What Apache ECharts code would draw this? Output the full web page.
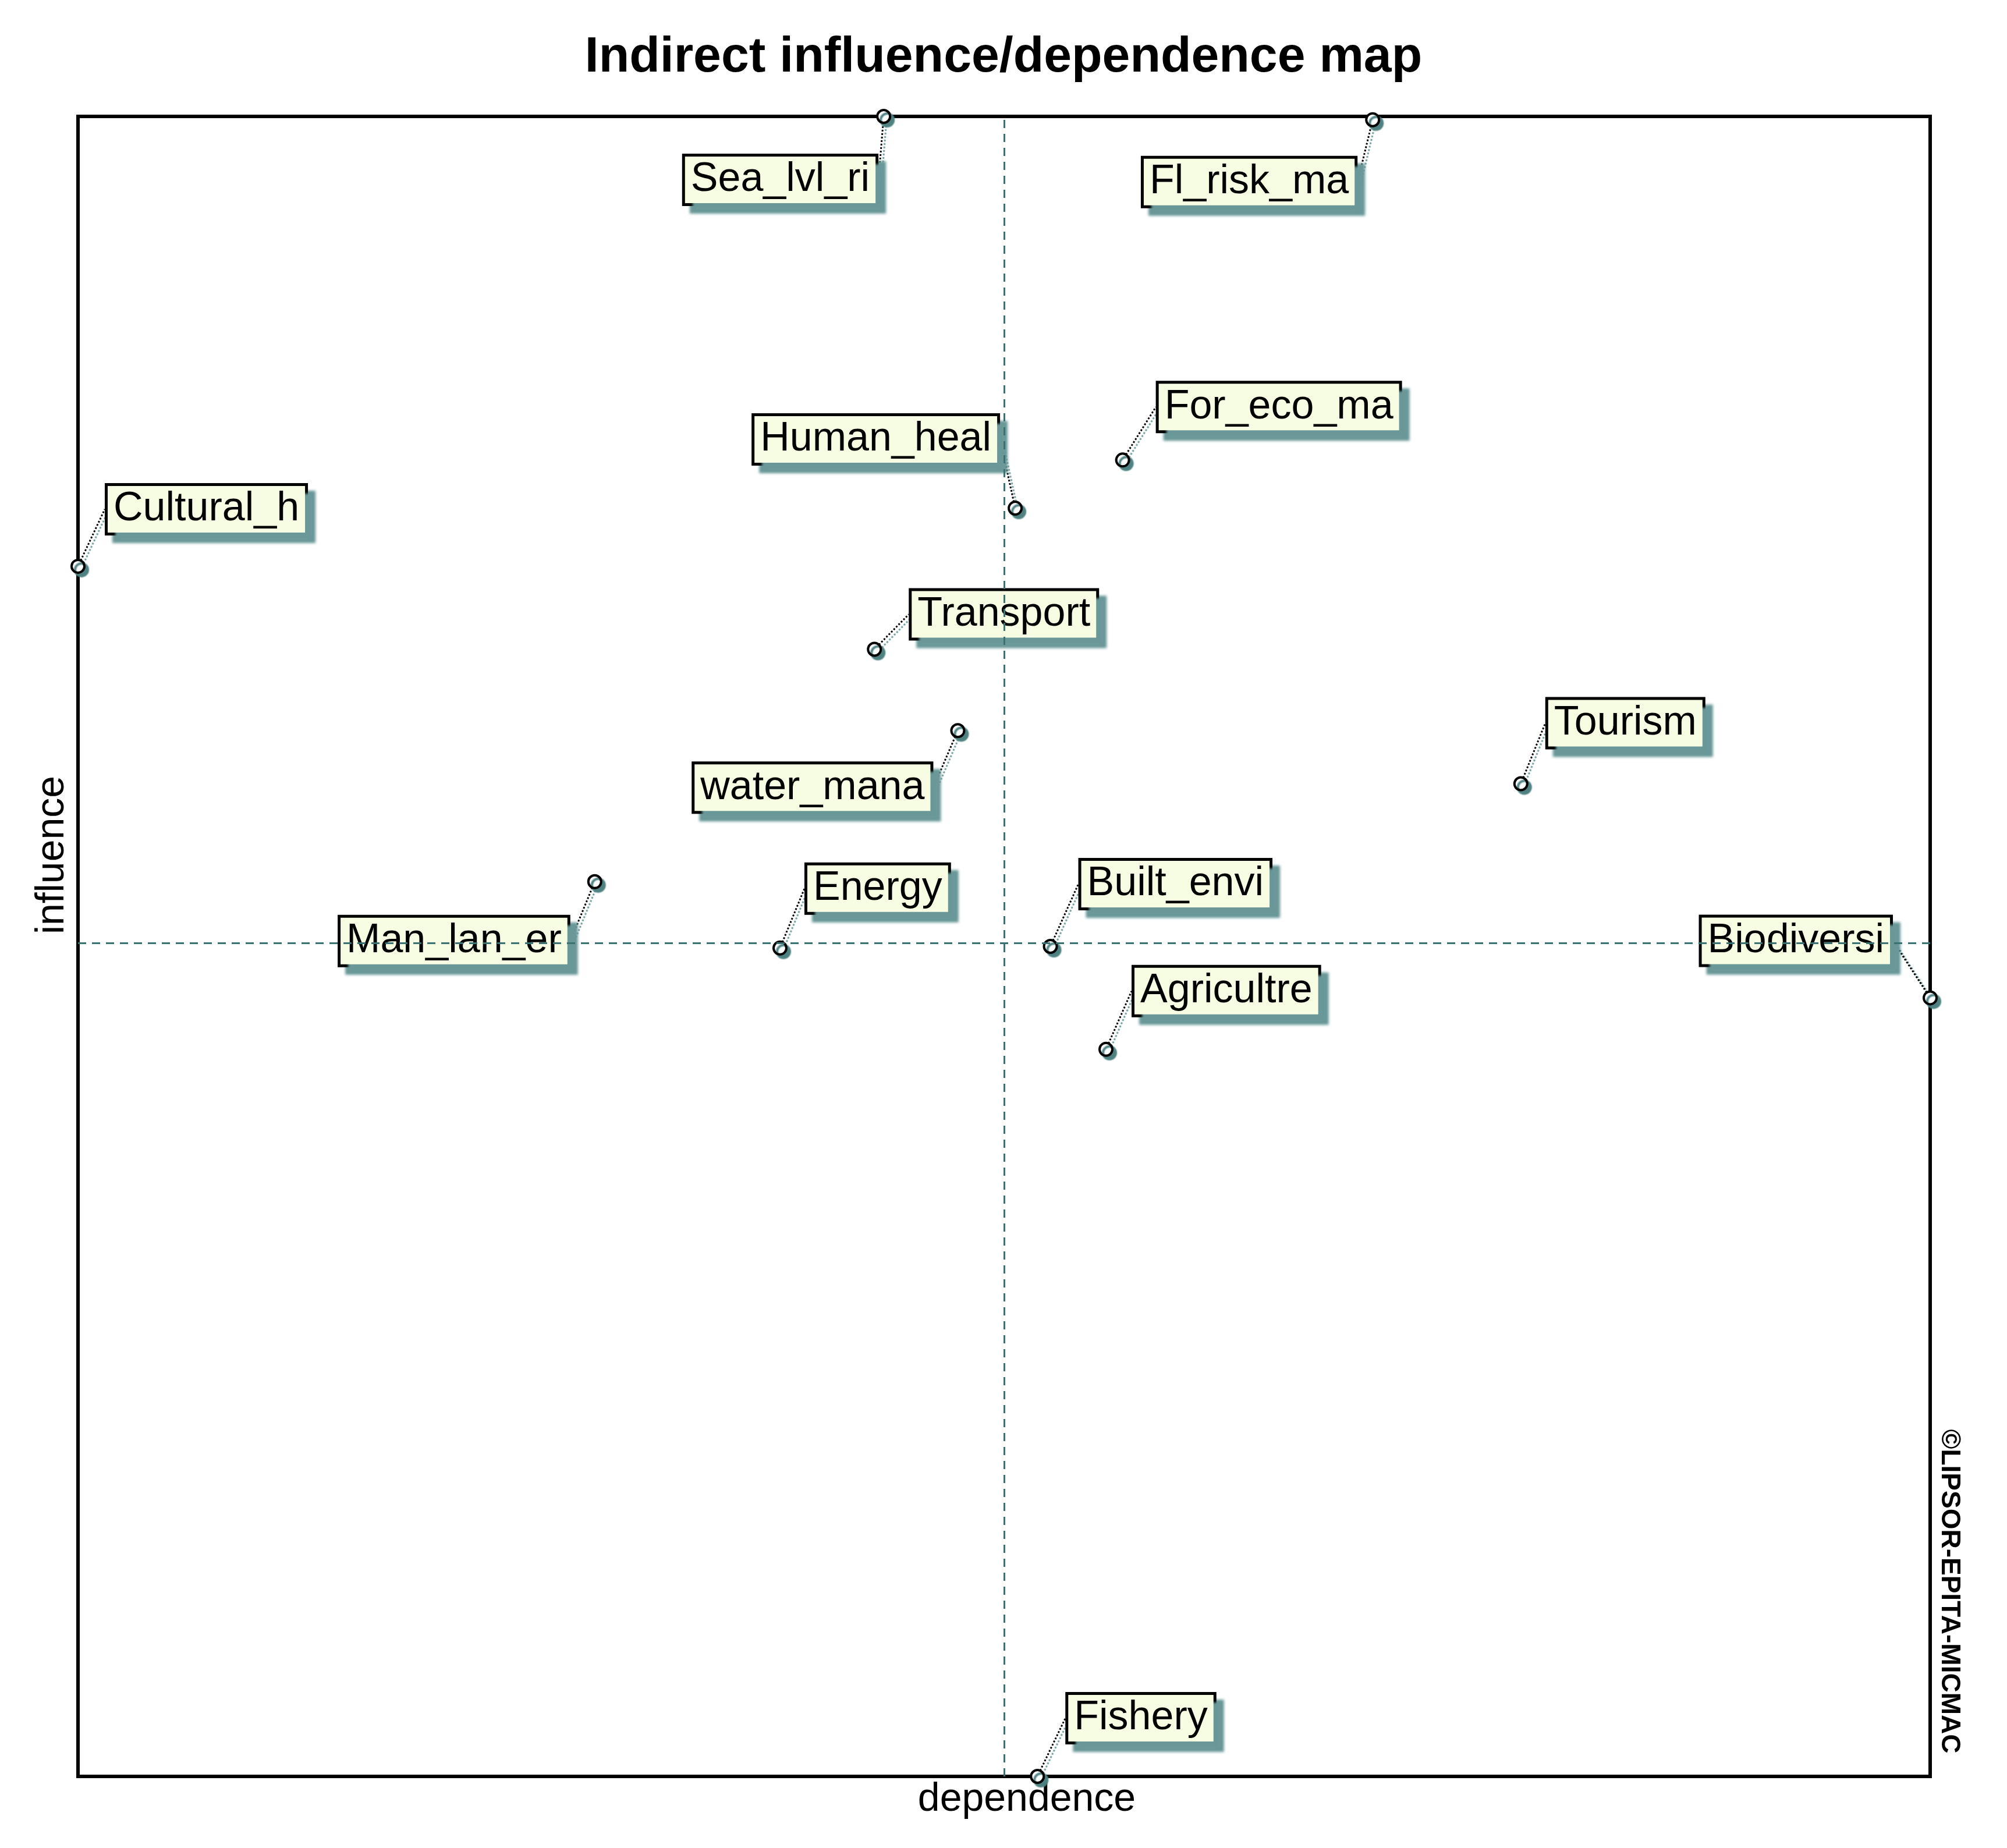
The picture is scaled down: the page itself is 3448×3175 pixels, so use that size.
<!DOCTYPE html>
<html><head><meta charset="utf-8">
<script src="https://cdn.jsdelivr.net/npm/echarts/dist/echarts.min.js"></script>
<style>html,body{margin:0;padding:0;background:#fff}#c{width:3448px;height:3175px}</style>
</head><body><div id="c"></div>
<script>
// ---- data ----
const variables = ['Sea_lvl_ri','Fl_risk_ma','For_eco_ma','Human_heal','Cultural_h','Transport','water_mana','Tourism','Man_lan_er','Energy','Built_envi','Agricultre','Biodiversi','Fishery'];
const dependence = [43.5, 69.9, 56.4, 50.6, 0.0, 43.0, 47.5, 77.9, 27.9, 37.9, 52.5, 55.5, 100.0, 51.8];
const influence  = [100.0, 99.8, 79.3, 76.4, 72.9, 67.9, 63.0, 59.8, 53.9, 49.9, 50.0, 43.8, 46.9, 0.0];
const meanDependence = 50.0;
const meanInfluence = 50.2;

// ---- label placement (layout only): offset from point to nearest corner of label box ----
const labelCorner = [[-9,64],[-26,62],[57,-46],[-26,-73],[46,-53],[59,-15],[-42,53],[42,-59],[-42,57],[42,-57],[48,-62],[44,-55],[-64,-53],[48,-55]];

const chart = echarts.init(document.getElementById('c'), null, {renderer:'canvas'});
const FONT = '"Liberation Sans", Arial, sans-serif';
const SHADOW = '#6a9898';

chart.setOption({
  animation: false,
  backgroundColor: '#ffffff',
  title: {
    text: 'Indirect influence/dependence map',
    left: 'center', top: 51,
    textStyle: {fontFamily: FONT, fontSize: 86, fontWeight: 'bold', color: '#000'}
  },
  grid: {left: 134, right: 132, top: 200, bottom: 123, show: true, borderColor: '#000', borderWidth: 6, backgroundColor: 'transparent'},
  xAxis: {type: 'value', min: 0, max: 100, axisLine: {show: false}, axisTick: {show: false}, axisLabel: {show: false}, splitLine: {show: false}},
  yAxis: {type: 'value', min: 0, max: 100, axisLine: {show: false}, axisTick: {show: false}, axisLabel: {show: false}, splitLine: {show: false}},
  graphic: [
    {type: 'text', x: 90, y: 1469, rotation: Math.PI / 2, style: {text: 'influence', fontFamily: FONT, fontSize: 68, fill: '#000', align: 'center', verticalAlign: 'middle'}},
    {type: 'text', x: 1764, y: 3092, style: {text: 'dependence', fontFamily: FONT, fontSize: 68, fill: '#000', align: 'center', verticalAlign: 'middle'}},
    {type: 'text', x: 3349, y: 2734, rotation: -Math.PI / 2, style: {text: '\u00A9LIPSOR-EPITA-MICMAC', fontFamily: FONT, fontSize: 46, fontWeight: 'bold', fill: '#000', align: 'center', verticalAlign: 'middle'}}
  ],
  series: [{
    type: 'scatter',
    clip: false,
    data: variables.map((n, i) => ({name: n, value: [dependence[i], influence[i]]})),
    symbol: 'circle',
    symbolSize: 22,
    itemStyle: {color: '#fff', borderColor: '#000', borderWidth: 4, shadowColor: '#4e8181', shadowOffsetX: 6, shadowOffsetY: 6, shadowBlur: 2, opacity: 1},
    label: {
      show: true, position: 'inside', formatter: p => p.name,
      fontFamily: FONT, fontSize: 70, lineHeight: 72, color: '#000',
      backgroundColor: '#f7fde3', borderColor: '#000', borderWidth: 5, padding: [4, 10, 4, 10],
      shadowColor: SHADOW, shadowOffsetX: 13, shadowOffsetY: 13, shadowBlur: 4
    },
    labelLine: {show: true, lineStyle: {color: '#000', width: 3, type: 'dotted', shadowColor: SHADOW, shadowOffsetX: 5, shadowOffsetY: 5, shadowBlur: 1}},
    labelLayout: function (p) {
      const c = labelCorner[p.dataIndex];
      const px = p.rect.x + p.rect.width / 2, py = p.rect.y + p.rect.height / 2;
      const W = p.labelRect.width, H = p.labelRect.height;
      const tx = c[0] >= 0 ? px + c[0] + W / 2 : px + c[0] - W / 2;
      const ty = c[1] >= 0 ? py + c[1] + H / 2 : py + c[1] - H / 2;
      return {dx: tx - (p.labelRect.x + W / 2), dy: ty - (p.labelRect.y + H / 2)};
    },
    emphasis: {disabled: true},
    markLine: {
      silent: true, symbol: 'none', label: {show: false},
      lineStyle: {color: '#3a7272', width: 3, type: [14, 10]},
      data: [{xAxis: meanDependence}, {yAxis: meanInfluence}]
    }
  }]
});
</script></body></html>
